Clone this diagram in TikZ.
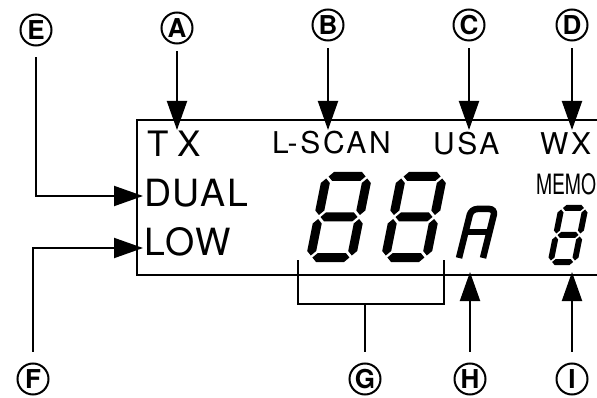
\documentclass[tikz,border=0pt]{standalone}
\usepackage{fontspec}
\setmainfont{TeX Gyre Heros}
\newfontfamily\lcdfont[LetterSpace=9]{TeX Gyre Heros}
\newfontfamily\lcdwide[LetterSpace=5]{TeX Gyre Heros}
\usetikzlibrary{arrows.meta}

% segments of a lit seven-segment "8"
\newcommand{\hseg}[3]{\fill (#1,#3) -- (#1+\segh,#3+\segh) -- (#2-\segh,#3+\segh)
  -- (#2,#3) -- (#2-\segh,#3-\segh) -- (#1+\segh,#3-\segh) -- cycle;}
\newcommand{\vseg}[3]{\fill (#1,#2) -- (#1+\segh,#2+\segh) -- (#1+\segh,#3-\segh)
  -- (#1,#3) -- (#1-\segh,#3-\segh) -- (#1-\segh,#2+\segh) -- cycle;}
\newcommand{\lcdeight}[4]{% width, height, thickness, gap
  \pgfmathsetmacro\segh{#3/2}%
  \pgfmathsetmacro\segxl{\segh}\pgfmathsetmacro\segxr{#1-\segh}%
  \pgfmathsetmacro\segyb{\segh}\pgfmathsetmacro\segym{#2/2}\pgfmathsetmacro\segyt{#2-\segh}%
  \hseg{\segxl+#4}{\segxr-#4}{\segyt}
  \hseg{\segxl+#4}{\segxr-#4}{\segym}
  \hseg{\segxl+#4}{\segxr-#4}{\segyb}
  \vseg{\segxl}{\segym+#4}{\segyt-#4}
  \vseg{\segxr}{\segym+#4}{\segyt-#4}
  \vseg{\segxl}{\segyb+#4}{\segym-#4}
  \vseg{\segxr}{\segyb+#4}{\segym-#4}}

\begin{document}
\begin{tikzpicture}[x=1pt, y=-1pt, line width=2pt,
  >={Triangle[length=29pt, width=20pt]},
  callout/.style={draw, circle, line width=2pt, minimum size=31pt, inner sep=0pt,
    font=\bfseries\fontsize{26}{26}\selectfont},
  lcd/.style={anchor=base west, inner sep=0pt},
  small/.style={lcd, font=\lcdfont\fontsize{30}{30}\selectfont},
  big/.style={lcd, font=\lcdwide\fontsize{37.5}{38}\selectfont}]
\useasboundingbox (0,0) rectangle (597,398);

% display outline, open to the right
\draw (597,120) -| (137,275) -- (597,275);

% indicators
\node[lcd, font=\fontsize{35}{35}\selectfont] (tx) at (146,157) {T\hspace{9pt}X};
\node[small] (lscan) at (271,154) {L-SCAN};
\node[small] (usa) at (432,155) {USA};
\node[small] (wx) at (539,155) {WX};
\node[big] (dual) at (143,207) {DUAL};
\node[big] (low) at (143,255) {LOW};
\node[lcd, font=\fontsize{28}{28}\selectfont] (memo) at (535,195) {\scalebox{0.69}[1]{MEMO}};

% channel digits, band letter, memory digit
\begin{scope}[shift={(305,262)}, x=1pt, y=1pt, xslant=0.2]
  \lcdeight{50}{90}{9}{2}
\end{scope}
\begin{scope}[shift={(380,262)}, x=1pt, y=1pt, xslant=0.2]
  \lcdeight{50}{90}{9}{2}
\end{scope}
\begin{scope}[shift={(459,258)}, x=1pt, y=1pt, xslant=0.25]
  \draw[line width=6.5pt, rounded corners=6pt] (0,0) -- (0,49) -- (24,49) -- (24,0);
  \draw[line width=6.5pt] (0,26) -- (24,26);
\end{scope}
\begin{scope}[shift={(547,265)}, x=1pt, y=1pt, xslant=0.2]
  \lcdeight{30}{60}{6}{1.5}
\end{scope}

% callouts
\node[callout] (ca) at (177,28) {A};
\node[callout] (cb) at (328,25) {B};
\node[callout] (cc) at (469,25) {C};
\node[callout] (cd) at (572,25) {D};
\node[callout] (ce) at (36,30) {E};
\node[callout] (cf) at (33,379) {F};
\node[callout] (cg) at (365,379) {G};
\node[callout] (ch) at (470,379) {H};
\node[callout] (ci) at (572,379) {I};

\coordinate (tipA) at (177,130);
\coordinate (tipB) at (328,130);
\coordinate (tipC) at (469,130);
\coordinate (tipD) at (572,130);
\coordinate (tipE) at (143,196);
\coordinate (tipF) at (143,248);
\coordinate (tipH) at (470,272);
\coordinate (tipI) at (572,272);
\coordinate (gl) at (298,260);
\coordinate (gr) at (444,260);
\coordinate (gmid) at (365,304);

\draw[->, shorten <=7pt] (ca) -- (tipA);
\draw[->, shorten <=7pt] (cb) -- (tipB);
\draw[->, shorten <=7pt] (cc) -- (tipC);
\draw[->, shorten <=7pt] (cd) -- (tipD);
\draw[->, shorten <=11pt] (ce) |- (tipE);
\draw[->, shorten <=11pt] (cf) |- (tipF);
\draw[->, shorten <=11pt] (ch) -- (tipH);
\draw[->, shorten <=11pt] (ci) -- (tipI);

% bracket over the two channel digits
\draw (gl) |- (gmid) -| (gr);
\draw[shorten <=11pt] (cg) -- (gmid);
\end{tikzpicture}
\end{document}
